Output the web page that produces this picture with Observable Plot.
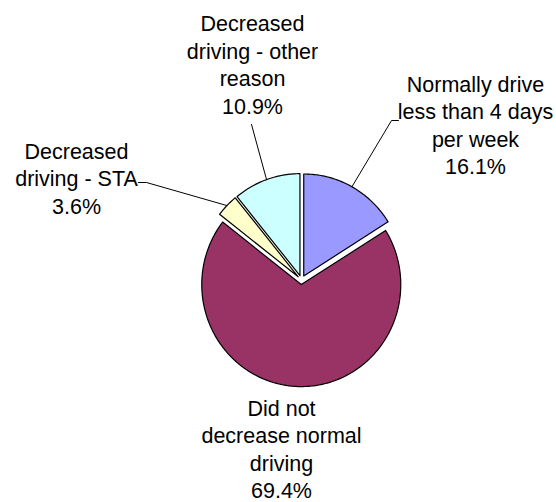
<!DOCTYPE html>
<html>
<head>
<meta charset="utf-8">
<script src="https://cdn.jsdelivr.net/npm/d3@7"></script>
<script src="https://cdn.jsdelivr.net/npm/@observablehq/plot@0.6"></script>
<style>
  html, body { margin: 0; padding: 0; background: #fff; }
  #chart svg { display: block; }
</style>
</head>
<body>
<div id="chart"></div>
<script>
// Driving behaviour categories, in clockwise order from 12 o'clock
const categories = [
  "Normally drive less than 4 days per week",
  "Did not decrease normal driving",
  "Decreased driving - STA",
  "Decreased driving - other reason"
];
const labelLines = [
  ["Normally drive", "less than 4 days", "per week"],
  ["Did not", "decrease normal", "driving"],
  ["Decreased", "driving - STA"],
  ["Decreased", "driving - other", "reason"]
];
const shares = [16.1, 69.4, 3.6, 10.9];
const colors = ["#9999FF", "#993366", "#FFFFCC", "#CCFFFF"];

// Layout (pixels)
const W = 556, H = 502;
const CX = 301, CY = 279.5;     // pie centre
const RX = 99.5, RY = 102;      // pie radii
const EXPLODE = 4.6;            // slice offset along its bisector
const labelPos = [
  {x: 475, y: 123.5},
  {x: 281, y: 447.5},
  {x: 76,  y: 177},
  {x: 252, y: 63}
];
const leaderEnds = [
  [[391, 120], [398, 120]],
  null,
  [[146, 182], [138, 182]],
  [[251, 124]]
];

const data = categories.map((name, i) => ({name, share: shares[i], color: colors[i], i}));
const arcs = d3.pie().sort(null).value(d => d.share).startAngle(0).endAngle(2 * Math.PI)(data);

const pt = (ox, oy, a, k = 1) => ({x: ox + Math.sin(a) * RX * k, y: oy - Math.cos(a) * RY * k});

const slices = arcs.map(a => {
  const mid = (a.startAngle + a.endAngle) / 2;
  const ox = CX + Math.sin(mid) * EXPLODE;
  const oy = CY - Math.cos(mid) * EXPLODE;
  const pts = [{x: ox, y: oy}];
  const n = Math.max(4, Math.ceil((a.endAngle - a.startAngle) / (Math.PI / 180)));
  for (let j = 0; j <= n; j++) {
    pts.push(pt(ox, oy, a.startAngle + (a.endAngle - a.startAngle) * j / n));
  }
  return {data: a.data, mid, ox, oy, pts};
});

const leaders = slices.filter(s => leaderEnds[s.data.i]).map(s => {
  const start = pt(s.ox, s.oy, s.mid);
  return [start, ...leaderEnds[s.data.i].map(([x, y]) => ({x, y}))];
});

const labels = slices.map(s => ({
  x: labelPos[s.data.i].x,
  y: labelPos[s.data.i].y,
  text: [...labelLines[s.data.i], s.data.share.toFixed(1) + "%"].join("\n")
}));

const chart = Plot.plot({
  width: W,
  height: H,
  margin: 0,
  x: {domain: [0, W], axis: null},
  y: {domain: [0, H], reverse: true, axis: null},
  style: {background: "#fff", overflow: "visible"},
  marks: [
    ...slices.map(s => Plot.line(s.pts, {
      x: "x", y: "y",
      curve: "linear-closed",
      fill: s.data.color,
      stroke: "#000",
      strokeWidth: 1.2
    })),
    ...leaders.map(l => Plot.line(l, {x: "x", y: "y", stroke: "#000", strokeWidth: 1})),
    Plot.text(labels, {
      x: "x", y: "y", text: "text",
      fontSize: 21.5,
      lineHeight: 1.28,
      lineAnchor: "middle",
      textAnchor: "middle",
      fontFamily: "Liberation Sans, Arial, sans-serif",
      fill: "#000"
    })
  ]
});

document.getElementById("chart").appendChild(chart);
</script>
</body>
</html>
